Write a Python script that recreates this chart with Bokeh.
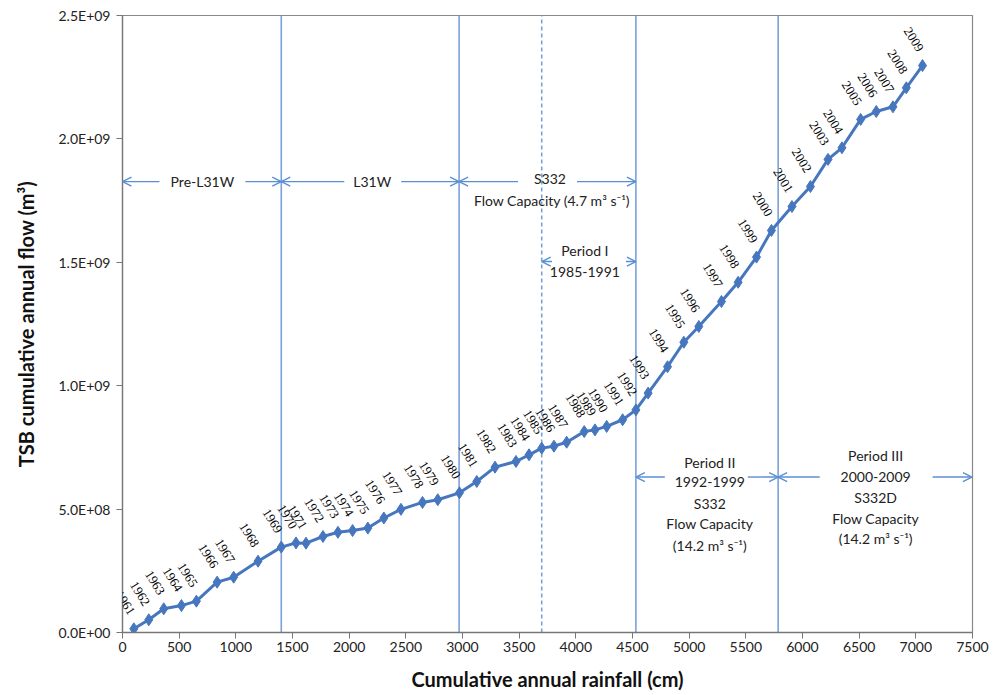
from bokeh.plotting import figure
from bokeh.models import (Range1d, FixedTicker, Arrow, OpenHead, Label, LabelSet, ColumnDataSource)
from bokeh.embed import file_html
from bokeh.resources import INLINE

# ---------------- data ----------------
years = list(range(1961, 2010))
rainfall_cm = [100, 232, 364, 520, 652, 835, 981, 1196, 1401, 1531,
               1619, 1769, 1901, 2030, 2165, 2306, 2457, 2647, 2782, 2973,
               3126, 3287, 3472, 3587, 3699, 3807, 3919, 4074, 4169, 4272,
               4413, 4530, 4638, 4809, 4953, 5085, 5285, 5432, 5594, 5726,
               5907, 6070, 6225, 6348, 6513, 6651, 6798, 6916, 7059]
flow_m3 = [1.50e7, 5.15e7, 9.6e7, 1.09e8, 1.27e8, 2.04e8, 2.24e8, 2.89e8, 3.46e8, 3.63e8,
           3.62e8, 3.89e8, 4.06e8, 4.13e8, 4.23e8, 4.64e8, 4.99e8, 5.27e8, 5.38e8, 5.66e8,
           6.12e8, 6.70e8, 6.93e8, 7.20e8, 7.47e8, 7.55e8, 7.71e8, 8.14e8, 8.21e8, 8.35e8,
           8.62e8, 9.02e8, 9.70e8, 1.077e9, 1.176e9, 1.240e9, 1.341e9, 1.419e9, 1.521e9, 1.629e9,
           1.726e9, 1.807e9, 1.917e9, 1.964e9, 2.079e9, 2.111e9, 2.130e9, 2.207e9, 2.297e9]

period_bounds = [1401, 2970, 4530, 5785]   # solid vertical lines
period_I_start = 3699                      # dashed vertical line

x_ticks = list(range(0, 7501, 500))
y_ticks = [0, 500000000, 1000000000, 1500000000, 2000000000, 2500000000]
y_tick_labels = ["0.0E+00", "5.0E+08", "1.0E+09", "1.5E+09", "2.0E+09", "2.5E+09"]

FONT = "Lato"
LINE_BLUE = "#4677be"
VLINE_BLUE = "#79a2d9"
ARROW_BLUE = "#5b8fd3"

p = figure(output_backend="svg", toolbar_location=None,
           frame_width=850, frame_height=617,
           min_border_left=122, min_border_right=22,
           min_border_top=15, min_border_bottom=62,
           x_range=Range1d(0, 7500), y_range=Range1d(0, 2.5e9))
p.xgrid.visible = False
p.ygrid.visible = False
p.outline_line_color = "#888888"
p.outline_line_width = 1.2
p.background_fill_color = "white"
p.border_fill_color = "white"

# axes
for ax in (p.xaxis[0], p.yaxis[0]):
    ax.axis_line_color = "#777777"
    ax.axis_line_width = 1.3
    ax.major_tick_line_color = "#777777"
    ax.major_tick_out = 6
    ax.major_tick_in = 0
    ax.minor_tick_line_color = None
    ax.major_label_text_font = FONT
    ax.major_label_text_font_size = "14px"
    ax.major_label_text_color = "#222222"
    ax.axis_label_text_font = FONT
    ax.axis_label_text_font_style = "bold"
    ax.axis_label_text_font_size = "20px"
    ax.axis_label_text_color = "#111111"

p.xaxis.ticker = FixedTicker(ticks=x_ticks)
p.yaxis.ticker = FixedTicker(ticks=y_ticks)
p.yaxis.major_label_overrides = {t: l for t, l in zip(y_ticks, y_tick_labels)}
p.xaxis.axis_label = "Cumulative annual rainfall (cm)"
p.yaxis.axis_label = "TSB cumulative annual flow (m³)"
p.xaxis.major_label_standoff = 3
p.xaxis.axis_label_standoff = 12
p.yaxis.major_label_standoff = 6
p.yaxis.axis_label_standoff = 18

# vertical period lines
p.segment(x0=period_bounds, y0=[0] * len(period_bounds),
          x1=period_bounds, y1=[2.5e9] * len(period_bounds),
          line_color=VLINE_BLUE, line_width=1.6)
p.segment(x0=[period_I_start], y0=[0], x1=[period_I_start], y1=[2.5e9],
          line_color=VLINE_BLUE, line_width=1.6, line_dash="4 3")

# data
src = ColumnDataSource(dict(x=rainfall_cm, y=flow_m3, yr=[str(y) for y in years]))
p.line("x", "y", source=src, line_color=LINE_BLUE, line_width=3)
p.scatter("x", "y", source=src, marker="diamond", size=12,
          fill_color=LINE_BLUE, line_color=LINE_BLUE)
labels = LabelSet(x="x", y="y", text="yr", source=src, angle=-58, angle_units="deg",
                  x_offset=-9, y_offset=26, text_align="center", text_baseline="middle",
                  text_font=FONT, text_font_size="13px", text_color="#000000")
p.add_layout(labels)

# annotation arrows (pieces, leaving gaps for the text boxes)
def head():
    return OpenHead(size=9, line_color=ARROW_BLUE, line_width=1.4)

def seg(x0, x1, y, start=False, end=False):
    a = Arrow(x_start=x0, y_start=y, x_end=x1, y_end=y,
              line_color=ARROW_BLUE, line_width=1.4,
              start=head() if start else None, end=head() if end else None)
    p.add_layout(a)

y_top = 1.827e9
seg(0, 326, y_top, start=True)
seg(1084, 1401, y_top, end=True)
seg(1401, 1957, y_top, start=True)
seg(2459, 2970, y_top, end=True)
seg(2970, 3490, y_top, start=True)
seg(4010, 4530, y_top, end=True)

y_p1 = 1.503e9
seg(3699, 3790, y_p1, start=True)
seg(4442, 4530, y_p1, end=True)

y_p2 = 6.30e8
seg(4530, 4785, y_p2, start=True)
seg(5517, 5785, y_p2, end=True)
seg(5785, 6152, y_p2, start=True)
seg(7148, 7495, y_p2, end=True)

def label(x, y, t):
    p.add_layout(Label(x=x, y=y, text=t, text_align="center", text_baseline="middle",
                       text_font=FONT, text_font_size="14px", text_color="#222222"))

label(705, y_top, "Pre-L31W")
label(2203, y_top, "L31W")
label(3772, 1.840e9, "S332")
label(3790, 1.752e9, "Flow Capacity (4.7 m³ s⁻¹)")
label(4080, 1.548e9, "Period I")
label(4080, 1.459e9, "1985-1991")

for t, yy in zip(["Period II", "1992-1999", "S332", "Flow Capacity", "(14.2 m³ s⁻¹)"],
                 [6.90e8, 6.09e8, 5.21e8, 4.40e8, 3.53e8]):
    label(5182, yy, t)
for t, yy in zip(["Period III", "2000-2009", "S332D", "Flow Capacity", "(14.2 m³ s⁻¹)"],
                 [7.17e8, 6.32e8, 5.48e8, 4.61e8, 3.80e8]):
    label(6645, yy, t)

open("out.html", "w").write(file_html(p, INLINE))
